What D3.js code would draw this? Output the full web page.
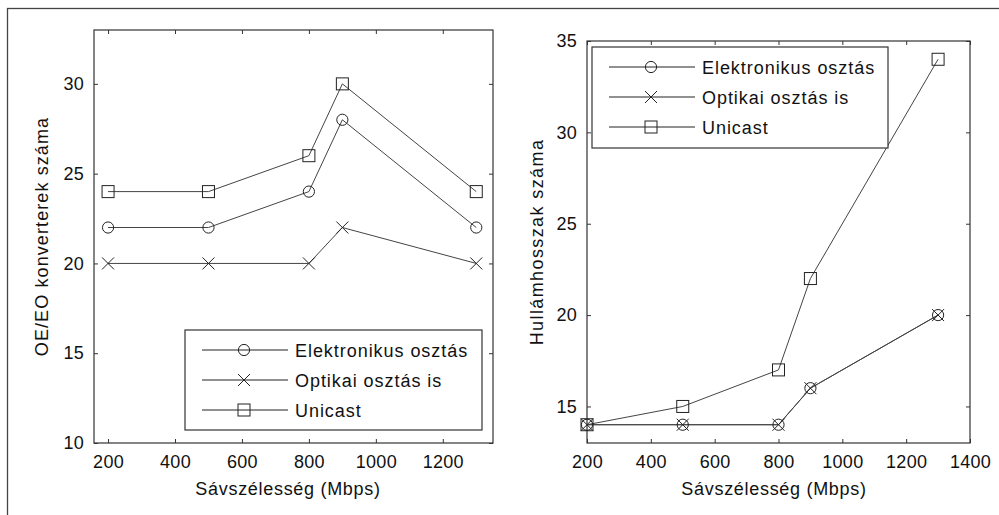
<!DOCTYPE html>
<html><head><meta charset="utf-8">
<script src="https://cdn.jsdelivr.net/npm/d3@7"></script>
<style>
body{margin:0;background:#fff;}
svg text{font-family:"Liberation Sans",Arial,sans-serif;fill:#111;}
</style></head>
<body><svg id="c" width="999" height="515"></svg>
<script>
// ---- data ----
const bandwidth = [200, 500, 800, 900, 1300];
const seriesNames = ["Elektronikus osztás", "Optikai osztás is", "Unicast"];
const seriesSymbols = ["circle", "cross", "square"];
// left panel: OE/EO konverterek száma
const leftElektronikus = [22, 22, 24, 28, 22];
const leftOptikai = [20, 20, 20, 22, 20];
const leftUnicast = [24, 24, 26, 30, 24];
// right panel: Hullámhosszak száma
const rightElektronikus = [14, 14, 14, 16, 20];
const rightOptikai = [14, 14, 14, 16, 20];
const rightUnicast = [14, 15, 17, 22, 34];
const leftXTicks = [200, 400, 600, 800, 1000, 1200];
const leftYTicks = [10, 15, 20, 25, 30];
const rightXTicks = [200, 400, 600, 800, 1000, 1200, 1400];
const rightYTicks = [15, 20, 25, 30, 35];
const xTitle = "Sávszélesség (Mbps)";
const leftYTitle = "OE/EO konverterek száma";
const rightYTitle = "Hullámhosszak száma";

const svg = d3.select("#c");
const FS = 18;

// outer frame
svg.append("rect").attr("x",7.5).attr("y",8.5).attr("width",1100).attr("height",600)
  .attr("fill","none").attr("stroke","#444").attr("stroke-width",1.3);

function marker(g, type, x, y){
  const s = 6;
  if(type==="circle"){
    g.append("circle").attr("cx",x).attr("cy",y).attr("r",5.6)
      .attr("fill","none").attr("stroke","#222").attr("stroke-width",1);
  } else if(type==="square"){
    g.append("rect").attr("x",x-s).attr("y",y-s).attr("width",2*s).attr("height",2*s)
      .attr("fill","none").attr("stroke","#222").attr("stroke-width",1);
  } else {
    g.append("path").attr("d",`M${x-s},${y-s}L${x+s},${y+s}M${x-s},${y+s}L${x+s},${y-s}`)
      .attr("fill","none").attr("stroke","#222").attr("stroke-width",1);
  }
}

function panel(cfg){
  const g = svg.append("g");
  const x = d3.scaleLinear().domain(cfg.xDomain).range([cfg.left, cfg.right]);
  const y = d3.scaleLinear().domain(cfg.yDomain).range([cfg.bottom, cfg.top]);
  const fmt = d3.format("d");
  // box
  g.append("rect").attr("x",cfg.left).attr("y",cfg.top)
    .attr("width",cfg.right-cfg.left).attr("height",cfg.bottom-cfg.top)
    .attr("fill","none").attr("stroke","#333").attr("stroke-width",1.2);
  // axes with inward ticks
  const ax = [
    [d3.axisBottom(x).tickValues(cfg.xTicks).tickFormat(fmt).tickSize(-4).tickPadding(12), `translate(0,${cfg.bottom})`, true],
    [d3.axisTop(x).tickValues(cfg.xTicks).tickSize(-4), `translate(0,${cfg.top})`, false],
    [d3.axisLeft(y).tickValues(cfg.yTicks).tickFormat(fmt).tickSize(-4).tickPadding(10), `translate(${cfg.left},0)`, true],
    [d3.axisRight(y).tickValues(cfg.yTicks).tickSize(-4), `translate(${cfg.right},0)`, false]
  ];
  ax.forEach(([a,t,lab])=>{
    const ag = g.append("g").attr("transform",t).call(a);
    ag.select(".domain").remove();
    ag.selectAll("line").attr("stroke","#333").attr("stroke-width",1);
    ag.selectAll("text").attr("font-size",FS).attr("font-family","Liberation Sans, Arial, sans-serif")
      .attr("fill","#111").style("letter-spacing","0.3px");
    if(!lab) ag.selectAll("text").remove();
  });
  // titles
  g.append("text").attr("x",cfg.xTitleX).attr("y",495)
    .attr("text-anchor","middle").attr("font-size",FS).style("letter-spacing","0.7px").text(xTitle);
  g.append("text").attr("transform",`translate(${cfg.yTitleX},${(cfg.top+cfg.bottom)/2}) rotate(-90)`)
    .attr("text-anchor","middle").attr("font-size",FS).style("letter-spacing",cfg.yTitleLS+"px").text(cfg.yTitle);
  // series
  const line = d3.line().x((d,i)=>x(bandwidth[i])).y(d=>y(d));
  cfg.series.forEach((vals,si)=>{
    g.append("path").attr("d",line(vals)).attr("fill","none")
      .attr("stroke","#444").attr("stroke-width",1);
  });
  cfg.series.forEach((vals,si)=>{
    vals.forEach((v,i)=>marker(g, seriesSymbols[si], x(bandwidth[i]), y(v)));
  });
  // legend
  const L = cfg.legend;
  g.append("rect").attr("x",L.x).attr("y",L.y).attr("width",L.w).attr("height",L.h)
    .attr("fill","#fff").attr("stroke","#333").attr("stroke-width",1.2);
  seriesNames.forEach((name,i)=>{
    const ry = L.y + 20 + i*30;
    g.append("line").attr("x1",L.x+17).attr("x2",L.x+103).attr("y1",ry).attr("y2",ry)
      .attr("stroke","#222").attr("stroke-width",1);
    marker(g, seriesSymbols[i], L.x+59, ry);
    g.append("text").attr("x",L.x+110).attr("y",ry+6.5).attr("font-size",FS)
      .style("letter-spacing","0.95px").text(name);
  });
}

panel({left:94, right:493, top:30, bottom:443, xDomain:[158,1350], yDomain:[10,33],
  xTicks:leftXTicks, yTicks:leftYTicks, yTitle:leftYTitle, yTitleX:47.5, yTitleLS:1.1, xTitleX:288,
  series:[leftElektronikus,leftOptikai,leftUnicast],
  legend:{x:185, y:330, w:297, h:100}});
panel({left:587, right:970, top:41, bottom:443, xDomain:[200,1400], yDomain:[13,35],
  xTicks:rightXTicks, yTicks:rightYTicks, yTitle:rightYTitle, yTitleX:543, yTitleLS:1.4, xTitleX:774,
  series:[rightElektronikus,rightOptikai,rightUnicast],
  legend:{x:592, y:47, w:296, h:101}});
</script></body></html>
